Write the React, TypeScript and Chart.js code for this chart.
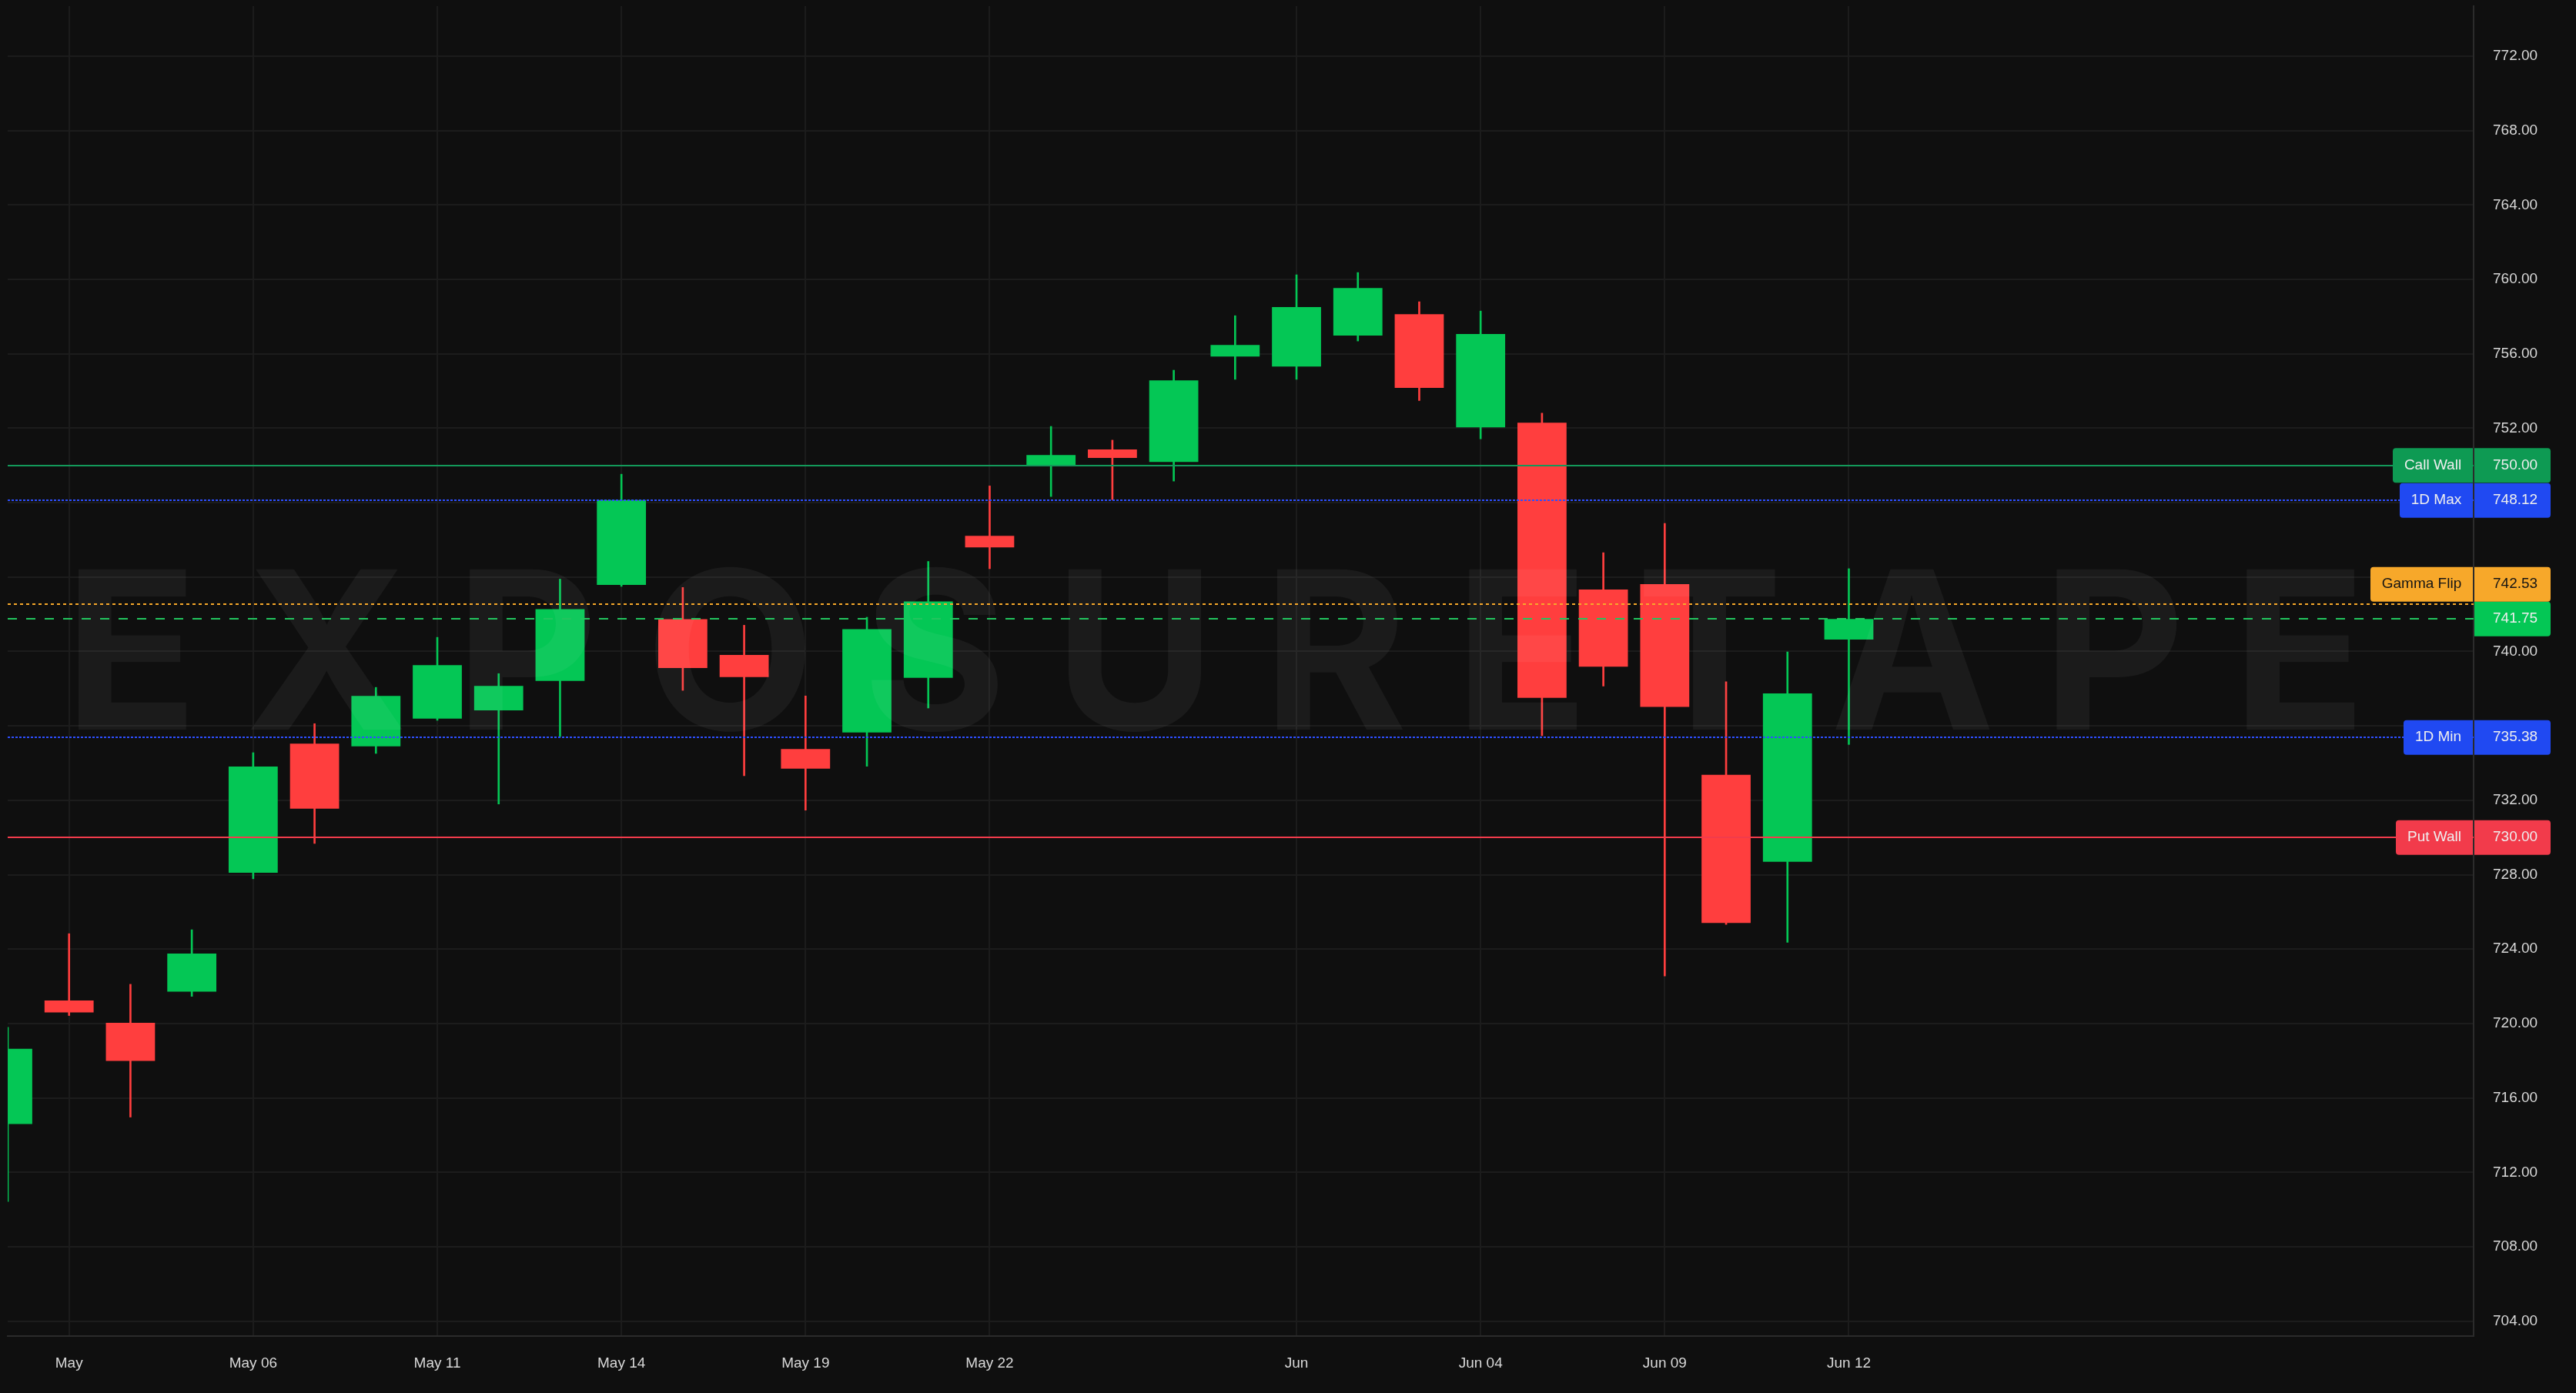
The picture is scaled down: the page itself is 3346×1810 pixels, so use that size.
import React, { useEffect, useRef } from "react";
import { Chart, registerables } from "chart.js";

Chart.register(...registerables);

// ---- Data ----
const candleIndex = [
  0, 1, 2, 3, 4, 5, 6, 7, 8, 9, 10, 11, 12, 13, 14, 15, 16, 17, 18, 19, 20, 21,
  22, 23, 24, 25, 26, 27, 28, 29, 30,
];
const openValues = [
  714.6, 721.24, 720.04, 721.71, 728.11, 735.05, 734.9, 736.39, 736.84, 738.42,
  743.58, 741.74, 739.81, 734.76, 735.65, 738.58, 746.22, 750.03, 750.86,
  750.19, 755.86, 755.32, 756.98, 758.13, 752.05, 752.3, 743.33, 743.62,
  733.37, 728.7, 740.64,
];
const highValues = [
  719.8, 724.83, 722.11, 725.04, 734.56, 736.12, 738.07, 740.76, 738.81,
  743.89, 749.53, 743.44, 741.41, 737.61, 741.84, 744.84, 748.9, 752.1, 751.36,
  755.12, 758.05, 760.25, 760.37, 758.8, 758.3, 752.81, 745.31, 746.89, 738.37,
  739.98, 744.45,
];
const lowValues = [
  710.43, 720.43, 714.97, 721.46, 727.78, 729.68, 734.52, 736.3, 731.8, 735.43,
  743.5, 737.91, 733.32, 731.47, 733.83, 736.96, 744.45, 748.33, 748.16,
  749.16, 754.63, 754.63, 756.69, 753.49, 751.43, 735.47, 738.14, 722.56,
  725.33, 724.37, 735.0,
];
const closeValues = [
  718.64, 720.6, 717.99, 723.76, 733.81, 731.55, 737.61, 739.27, 738.15,
  742.28, 748.14, 739.11, 738.62, 733.7, 741.2, 742.69, 745.6, 750.56, 750.4,
  754.57, 756.48, 758.51, 759.54, 754.17, 757.07, 737.51, 739.18, 737.02,
  725.41, 737.75, 741.75,
];

const xTickIndices = [1, 4, 7, 10, 13, 16, 21, 24, 27, 30];
const xTickLabels = [
  "May",
  "May 06",
  "May 11",
  "May 14",
  "May 19",
  "May 22",
  "Jun",
  "Jun 04",
  "Jun 09",
  "Jun 12",
];
const yTickValues = [
  704, 708, 712, 716, 720, 724, 728, 732, 736, 740, 744, 748, 752, 756, 760,
  764, 768, 772,
];

const levelNames = ["Call Wall", "1D Max", "Gamma Flip", "1D Min", "Put Wall"];
const levelValues = [750.0, 748.12, 742.53, 735.38, 730.0];
const levelColors = ["#0e9a53", "#2049f2", "#f7a82a", "#2049f2", "#f23b4b"];
const levelLineColors = ["#13995a", "#2d4fff", "#f7a82a", "#2d4fff", "#f23b4b"];
const levelTextColors = ["#eeeeee", "#eeeeee", "#151515", "#eeeeee", "#eeeeee"];
const levelDashes = [[], [3, 2], [4, 4], [3, 2], []];
const lastPrice = 741.75;

const watermarkText = "EXPOSURETAPE";

// ---- Styles ----
const BG = "#0f0f0f";
const UP = "#04c755";
const DOWN = "#ff3e3e";
const GRID = "#1c1c1c";
const BORDER = "#2b2b2b";
const TEXT = "#d8d8d8";
const FONT = "'Liberation Sans', Arial, Helvetica, sans-serif";

function roundRectPath(
  ctx: CanvasRenderingContext2D,
  x: number,
  y: number,
  w: number,
  h: number,
  rl: number,
  rr: number
) {
  ctx.beginPath();
  ctx.moveTo(x + rl, y);
  ctx.lineTo(x + w - rr, y);
  if (rr) ctx.arcTo(x + w, y, x + w, y + rr, rr);
  else ctx.lineTo(x + w, y);
  ctx.lineTo(x + w, y + h - rr);
  if (rr) ctx.arcTo(x + w, y + h, x + w - rr, y + h, rr);
  else ctx.lineTo(x + w, y + h);
  ctx.lineTo(x + rl, y + h);
  if (rl) ctx.arcTo(x, y + h, x, y + h - rl, rl);
  else ctx.lineTo(x, y + h);
  ctx.lineTo(x, y + rl);
  if (rl) ctx.arcTo(x, y, x + rl, y, rl);
  else ctx.lineTo(x, y);
  ctx.closePath();
}

const bgPlugin = {
  id: "bgFill",
  beforeDraw(chart: any) {
    const ctx = chart.ctx as CanvasRenderingContext2D;
    ctx.save();
    ctx.fillStyle = BG;
    ctx.fillRect(0, 0, chart.width, chart.height);
    ctx.restore();
  },
};

const overlayPlugin = {
  id: "overlay",
  afterDatasetsDraw(chart: any) {
    const ctx = chart.ctx as CanvasRenderingContext2D;
    const area = chart.chartArea;
    const ys = chart.scales.y;
    ctx.save();
    ctx.beginPath();
    ctx.rect(area.left, area.top, area.right - area.left, area.bottom - area.top);
    ctx.clip();

    // watermark
    const w = area.right - area.left;
    const h = area.bottom - area.top;
    ctx.font = `700 100px Inter, 'Liberation Sans', Arial, sans-serif`;
    const capRef = ctx.measureText("E").actualBoundingBoxAscent || 72.7;
    const fontSize = (0.121 * h * 100) / capRef;
    ctx.font = `700 ${fontSize}px Inter, 'Liberation Sans', Arial, sans-serif`;
    const chars = watermarkText.split("");
    const ms = chars.map((c) => ctx.measureText(c));
    let adv = 0;
    for (let i = 0; i < chars.length - 1; i++) adv += ms[i].width;
    const first = ms[0];
    const last = ms[ms.length - 1];
    const targetSpan = 0.924 * w;
    const baseSpan = adv + first.actualBoundingBoxLeft + last.actualBoundingBoxRight;
    const ls = (targetSpan - baseSpan) / (chars.length - 1);
    const inkCenter = (area.left + area.right) / 2 - ls / 2;
    const inkLeft = inkCenter - targetSpan / 2;
    let x = inkLeft + first.actualBoundingBoxLeft;
    const baseline = area.top + 0.544 * h;
    ctx.fillStyle = "rgba(255,255,255,0.05)";
    ctx.textAlign = "left";
    ctx.textBaseline = "alphabetic";
    for (let i = 0; i < chars.length; i++) {
      ctx.fillText(chars[i], x, baseline);
      x += ms[i].width + ls;
    }

    // level lines
    ctx.lineWidth = 2;
    for (let i = 0; i < levelValues.length; i++) {
      const py = Math.round(ys.getPixelForValue(levelValues[i]));
      ctx.strokeStyle = levelLineColors[i];
      ctx.setLineDash(levelDashes[i]);
      ctx.beginPath();
      ctx.moveTo(area.left, py);
      ctx.lineTo(area.right, py);
      ctx.stroke();
    }
    const lp = Math.round(ys.getPixelForValue(lastPrice));
    ctx.strokeStyle = "#22c55e";
    ctx.setLineDash([12, 12]);
    ctx.beginPath();
    ctx.moveTo(area.left, lp);
    ctx.lineTo(area.right, lp);
    ctx.stroke();
    ctx.setLineDash([]);
    ctx.restore();
  },
  afterDraw(chart: any) {
    const ctx = chart.ctx as CanvasRenderingContext2D;
    const area = chart.chartArea;
    const ys = chart.scales.y;
    const H = 45;
    const valueW = 99;
    ctx.save();
    ctx.font = `19px ${FONT}`;
    ctx.textBaseline = "middle";

    type Item = {
      name: string | null;
      value: number;
      bg: string;
      fg: string;
      c: number;
    };
    const placed: Item[] = [];
    placed.push({
      name: null,
      value: lastPrice,
      bg: UP,
      fg: "#eeeeee",
      c: ys.getPixelForValue(lastPrice),
    });
    const order = levelValues
      .map((v, i) => i)
      .sort(
        (a, b) =>
          Math.abs(levelValues[a] - lastPrice) - Math.abs(levelValues[b] - lastPrice)
      );
    for (const i of order) {
      let c = ys.getPixelForValue(levelValues[i]);
      for (let iter = 0; iter < 10; iter++) {
        let moved = false;
        for (const p of placed) {
          if (Math.abs(c - p.c) < H - 0.5) {
            c = levelValues[i] >= p.value ? p.c - H : p.c + H;
            moved = true;
          }
        }
        if (!moved) break;
      }
      placed.push({
        name: levelNames[i],
        value: levelValues[i],
        bg: levelColors[i],
        fg: levelTextColors[i],
        c,
      });
    }

    for (const it of placed) {
      const top = it.c - H / 2;
      // value box
      ctx.fillStyle = it.bg;
      roundRectPath(ctx, area.right + 1, top, valueW, H, 0, 4);
      ctx.fill();
      ctx.fillStyle = it.fg;
      ctx.textAlign = "left";
      ctx.fillText(it.value.toFixed(2), area.right + 25, it.c);
      if (it.name) {
        const tw = ctx.measureText(it.name).width;
        const bw = Math.round(tw + 30);
        ctx.fillStyle = it.bg;
        roundRectPath(ctx, area.right - 1 - bw, top, bw, H, 4, 0);
        ctx.fill();
        ctx.fillStyle = it.fg;
        ctx.textAlign = "center";
        ctx.fillText(it.name, area.right - 1 - bw / 2, it.c);
      }
    }
    ctx.restore();
  },
};

// hide axis tick labels that sit right under a price label
const labelValues = [...levelValues, lastPrice];
function tickHidden(v: number) {
  return labelValues.some((lv) => Math.abs(lv - v) < 1.3);
}

export default function App() {
  const ref = useRef<HTMLCanvasElement>(null);

  useEffect(() => {
    document.body.style.margin = "0";
    document.body.style.background = BG;
    document.body.style.overflow = "hidden";
    const canvas = ref.current;
    if (!canvas) return;

    const colors = candleIndex.map((i) =>
      closeValues[i] >= openValues[i] ? UP : DOWN
    );

    const chart = new Chart(canvas, {
      type: "bar",
      data: {
        datasets: [
          {
            label: "body",
            data: candleIndex.map((i) => ({
              x: i,
              y: [openValues[i], closeValues[i]],
            })) as any,
            backgroundColor: colors,
            borderWidth: 0,
            grouped: false,
            categoryPercentage: 0.8,
            barPercentage: 1,
            clip: 0,
            order: 0,
          } as any,
          {
            label: "wick",
            data: candleIndex.map((i) => ({
              x: i,
              y: [lowValues[i], highValues[i]],
            })) as any,
            backgroundColor: colors,
            borderWidth: 0,
            grouped: false,
            barThickness: 2,
            clip: 0,
            order: 1,
          } as any,
        ],
      },
      options: {
        responsive: false,
        animation: false,
        devicePixelRatio: 1,
        layout: { padding: { left: 10, top: 8, right: 0, bottom: 0 } },
        plugins: {
          legend: { display: false },
          tooltip: { enabled: false },
        },
        scales: {
          x: {
            type: "linear",
            min: 0,
            max: 40.18,
            offset: false,
            grid: { color: GRID, lineWidth: 2, drawTicks: false, offset: false },
            border: { display: true, color: BORDER, width: 2 },
            afterBuildTicks: (scale: any) => {
              scale.ticks = xTickIndices.map((v) => ({ value: v }));
            },
            afterFit: (scale: any) => {
              scale.height = 74;
              scale.paddingLeft = 0;
              scale.paddingRight = 0;
            },
            ticks: {
              color: TEXT,
              font: { family: FONT, size: 19 },
              padding: 24,
              maxRotation: 0,
              autoSkip: false,
              callback: (_v: any, index: number) => xTickLabels[index],
            },
          },
          y: {
            type: "linear",
            position: "right",
            min: 703.2,
            max: 774.69,
            grid: { color: GRID, lineWidth: 2, drawTicks: false },
            border: { display: true, color: BORDER, width: 2 },
            afterBuildTicks: (scale: any) => {
              scale.ticks = yTickValues.map((v) => ({ value: v }));
            },
            afterFit: (scale: any) => {
              scale.width = 133;
              scale.paddingTop = 0;
              scale.paddingBottom = 0;
            },
            ticks: {
              color: TEXT,
              font: { family: FONT, size: 19 },
              padding: 25,
              callback: (v: any) =>
                tickHidden(Number(v)) ? "" : Number(v).toFixed(2),
            },
          },
        },
      } as any,
      plugins: [bgPlugin, overlayPlugin],
    });

    return () => {
      chart.destroy();
    };
  }, []);

  return (
    <canvas
      ref={ref}
      width={3346}
      height={1810}
      style={{ display: "block", width: 3346, height: 1810 }}
    />
  );
}
